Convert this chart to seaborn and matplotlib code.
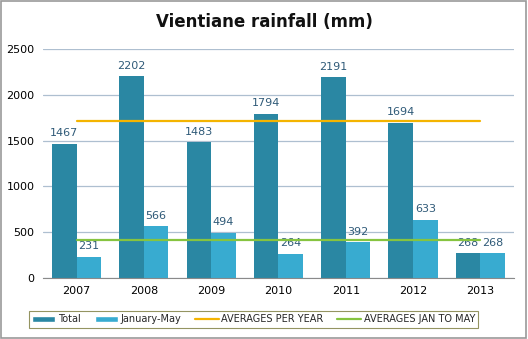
import matplotlib
matplotlib.use("Agg")
import matplotlib.pyplot as plt
import seaborn as sns
import pandas as pd
from matplotlib.lines import Line2D
from matplotlib.patches import Patch, Rectangle

years = ["2007", "2008", "2009", "2010", "2011", "2012", "2013"]
total = [1467, 2202, 1483, 1794, 2191, 1694, 268]
jan_may = [231, 566, 494, 264, 392, 633, 268]
avg_year = 1710
avg_jan_may = 410
series_names = ["Total", "January-May"]
line_names = ["AVERAGES PER YEAR", "AVERAGES JAN TO MAY"]

df = pd.DataFrame({
    "Year": years * 2,
    "Rainfall": total + jan_may,
    "Series": [series_names[0]] * len(years) + [series_names[1]] * len(years),
})

sns.set_style("white")
plt.rcParams["font.family"] = ["DejaVu Sans"]

bar_colors = ["#2a87a3", "#38abd0"]
fig = plt.figure(figsize=(5.28, 3.39), dpi=100)
ax = fig.add_axes([0.0814, 0.18, 0.892, 0.675])

sns.barplot(data=df, x="Year", y="Rainfall", hue="Series", palette=bar_colors,
            width=0.73, gap=0, ax=ax, legend=False, saturation=1, linewidth=0)

for cont in ax.containers:
    ax.bar_label(cont, padding=4, fontsize=8, color="#2f5a78")

ax.plot([0, len(years) - 1], [avg_year, avg_year], color="#f4b400", lw=1.6, zorder=3)
ax.plot([0, len(years) - 1], [avg_jan_may, avg_jan_may], color="#86c440", lw=1.6, zorder=3)

ax.set_ylim(0, 2500)
ax.set_yticks(range(0, 2501, 500))
ax.set_xlim(-0.5, len(years) - 0.5)
ax.yaxis.grid(True, color="#aebfd0", lw=0.9)
ax.set_axisbelow(True)
for s in ["top", "right", "left"]:
    ax.spines[s].set_visible(False)
ax.spines["bottom"].set_color("#8a8a8a")
ax.tick_params(axis="both", labelsize=8, colors="black", length=0, pad=6)
ax.set_xlabel("")
ax.set_ylabel("")

fig.text(0.5, 0.935, "Vientiane rainfall (mm)", ha="center", va="center",
         fontsize=12, fontweight="bold", color="#111111")

handles = [Patch(facecolor=bar_colors[0]), Patch(facecolor=bar_colors[1]),
           Line2D([0], [0], color="#f4b400", lw=1.6),
           Line2D([0], [0], color="#86c440", lw=1.6)]
leg = fig.legend(handles, series_names + line_names, loc="center",
                 bbox_to_anchor=(0.48, 0.058), ncol=4, fontsize=7,
                 frameon=True, fancybox=False, handlelength=2.4,
                 handleheight=0.6, columnspacing=1.4, handletextpad=0.3,
                 borderpad=0.35)
leg.get_frame().set_edgecolor("#7a7a3a")
leg.get_frame().set_linewidth(0.8)

fig.patches.append(Rectangle((0.002, 0.003), 0.995, 0.994, transform=fig.transFigure,
                             fill=False, edgecolor="#999999", lw=1.2))

fig.savefig("out.png", dpi=100)
